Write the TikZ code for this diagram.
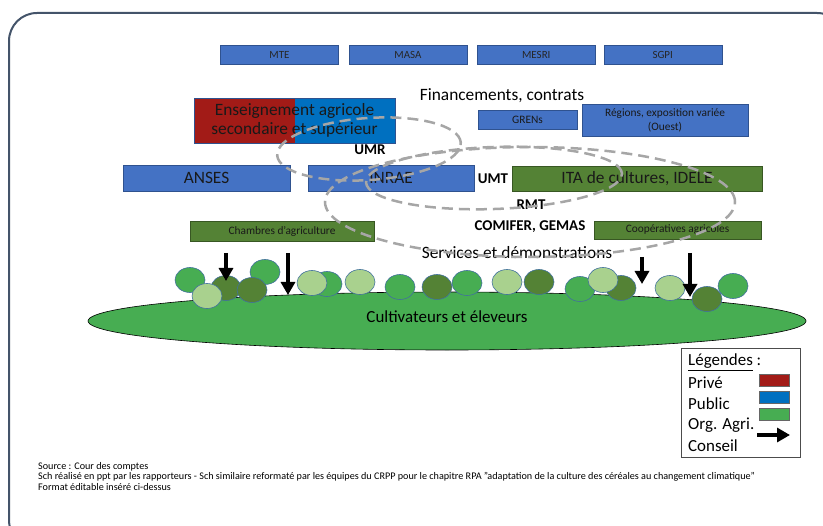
\documentclass[tikz,border=0pt]{standalone}
\usepackage{fontspec}
\setmainfont{Carlito}
\usepackage{tikz}
\usetikzlibrary{arrows.meta,positioning,shapes.geometric}

\definecolor{pubblue}{RGB}{68,114,196}
\definecolor{pubedge}{RGB}{47,82,143}
\definecolor{publight}{RGB}{0,112,192}
\definecolor{privred}{RGB}{162,27,23}
\definecolor{orggreen}{RGB}{84,130,53}
\definecolor{orgedge}{RGB}{56,87,35}
\definecolor{fieldgreen}{RGB}{71,173,82}
\definecolor{farmlight}{RGB}{169,209,142}
\definecolor{farmedge}{RGB}{65,113,156}
\definecolor{dashgray}{RGB}{166,166,166}
\definecolor{framegray}{RGB}{68,84,106}

\begin{document}
\begin{tikzpicture}[x=1bp, y=-1bp,
  ministry/.style={draw=pubedge, fill=pubblue, minimum width=118bp, minimum height=19bp,
              inner sep=0pt, font=\fontsize{11}{12}\selectfont, text=black!85},
  pub/.style={draw=pubedge, fill=pubblue, inner sep=0pt, align=center, text=black!90},
  org/.style={draw=orgedge, fill=orggreen, inner sep=0pt, align=center, text=black!90},
  big/.style={font=\fontsize{17.4}{19.5}\selectfont},
  small/.style={font=\fontsize{11.4}{14}\selectfont},
  lbl/.style={inner sep=0pt, font=\bfseries\fontsize{15}{17}\selectfont},
  cluster/.style={draw=dashgray, line width=2.5bp, dash pattern=on 11bp off 6bp},
  farm/.style={ellipse, draw=farmedge, line width=0.6bp, minimum width=30bp,
              minimum height=25bp, inner sep=0pt},
  swatch/.style={draw=black!60, minimum width=30bp, minimum height=12bp, inner sep=0pt},
  legtxt/.style={anchor=west, inner sep=0pt, font=\fontsize{17}{19}\selectfont},
  foot/.style={anchor=west, inner sep=0pt, font=\fontsize{10.2}{12}\selectfont},
  arr/.style={-{Triangle[width=14bp,length=13bp]}, line width=3.2bp}]
  \useasboundingbox (0,0) rectangle (823,526);
  \clip (0,0) rectangle (823,526);
  \draw[framegray, line width=2bp, rounded corners=28bp] (9,13) rectangle (845,548);

  % financeurs
  \node[ministry] (mte) at (279.5,54.5) {MTE};
  \node[ministry, right=10bp of mte] (masa) {MASA};
  \node[ministry, right=10bp of masa] (mesri) {MESRI};
  \node[ministry, right=8bp of mesri] (sgpi) {SGPI};
  \node[big, inner sep=0pt] (fin) at (502,96) {Financements, contrats};
  \node[pub, small, minimum width=99bp, minimum height=19bp] (grens) at (527.5,119.5) {GRENs};
  \node[pub, small, minimum width=166bp, minimum height=32bp] (reg) at (665,120)
    {Régions, exposition variée\\(Ouest)};

  % recherche et enseignement
  \node[pub, big, fill=publight, minimum width=201bp, minimum height=45bp,
    path picture={\fill[privred] (path picture bounding box.north west)
      rectangle (path picture bounding box.south);}]
    (ens) at (294.5,120.5) {Enseignement agricole\\secondaire et supérieur};
  \node[pub, big, minimum width=167bp, minimum height=26bp] (anses) at (206.5,178) {ANSES};
  \node[pub, big, minimum width=166bp, minimum height=26bp] (inrae) at (391,178) {INRAE};
  \node[org, big, minimum width=250bp, minimum height=25bp] (ita) at (637,178.5) {ITA de cultures, IDELE};
  \node[org, small, minimum width=184bp, minimum height=20bp] (cha) at (282,231) {Chambres d’agriculture};
  \node[org, small, minimum width=167bp, minimum height=18bp] (coop) at (677.5,230) {Coopératives agricoles};
  \node[lbl] (umr) at (370,150) {UMR};
  \node[lbl] (umt) at (493,179) {UMT};
  \node[lbl] (rmt) at (531,205) {RMT};
  \node[lbl] (comifer) at (530,227) {COMIFER, GEMAS};
  \node[big, inner sep=0pt] (serv) at (517,253) {Services et démonstrations};

  % partenariats
  \draw[cluster, rotate around={4:(369,149)}] (369,149) ellipse [x radius=92bp, y radius=31bp];
  \draw[cluster, rotate around={2:(494,178)}] (494,178) ellipse [x radius=128bp, y radius=31bp];
  \draw[cluster] (530,202) ellipse [x radius=205bp, y radius=55bp];

  % exploitations
  \node[ellipse, draw=black, line width=0.6bp, fill=fieldgreen, minimum width=718bp,
    minimum height=58bp] (field) at (447,321) {};
  \node[font=\fontsize{17}{19}\selectfont, inner sep=0pt] (farmers) at (447,317) {Cultivateurs et éleveurs};
  \foreach \x/\y/\c [count=\i] in {190/280/fieldgreen, 226/288/orggreen, 207/296/farmlight,
      265/272/fieldgreen, 252/290/orggreen, 327/284/fieldgreen, 312/283/farmlight,
      360/282/farmlight, 400/287/fieldgreen, 437/287/orggreen, 467/283/fieldgreen,
      507/282/farmlight, 539/282/orggreen, 580/289/fieldgreen, 621/288/orggreen,
      603/280/farmlight, 670/288/farmlight, 733/286/fieldgreen, 707/299/orggreen}
    \node[farm, fill=\c] (f\i) at (\x,\y) {};

  % conseil
  \coordinate (c1) at (226,253); \coordinate (e1) at (226,281);
  \coordinate (c2) at (288,253); \coordinate (e2) at (288,295);
  \coordinate (c3) at (642,257); \coordinate (e3) at (642,284);
  \coordinate (c4) at (690,253); \coordinate (e4) at (690,297);
  \draw[arr] (c1) -- (e1);
  \draw[arr] (c2) -- (e2);
  \draw[arr] (c3) -- (e3);
  \draw[arr] (c4) -- (e4);

  % legende
  \node[draw=black!70, fill=white, minimum width=119bp, minimum height=109bp] (legend) at (740.5,402.5) {};
  \node[legtxt] (lg) at (688,362) {\underline{Légendes}~:};
  \node[legtxt] (lpriv) at (688,383) {Privé};
  \node[legtxt] (lpub) at (688,404) {Public};
  \node[legtxt] (lorg) at (688,425) {Org. Agri.};
  \node[legtxt] (lcons) at (688,446) {Conseil};
  \node[swatch, fill=privred] (spriv) at (774,380) {};
  \node[swatch, fill=publight] (spub) at (774,397) {};
  \node[swatch, fill=fieldgreen] (sorg) at (774,414) {};
  \coordinate (la) at (757,435); \coordinate (lb) at (790,435);
  \draw[arr] (la) -- (lb);

  % sources
  \node[foot] (src1) at (38,467) {Source : Cour des comptes};
  \node[foot] (src2) at (38,477) {Sch réalisé en ppt par les rapporteurs - Sch similaire reformaté par les équipes du CRPP pour le chapitre RPA "adaptation de la culture des céréales au changement climatique"};
  \node[foot] (src3) at (38,487) {Format éditable inséré ci-dessus};
\end{tikzpicture}
\end{document}
